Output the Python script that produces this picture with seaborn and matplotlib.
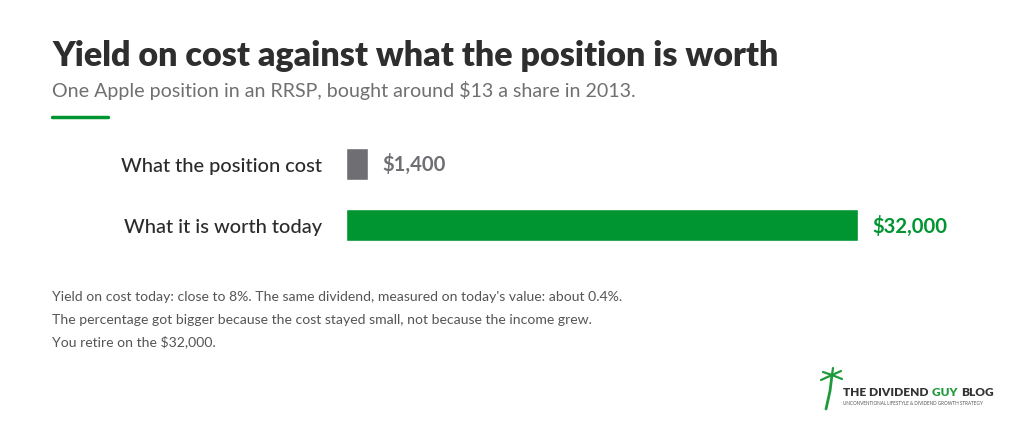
import matplotlib
matplotlib.use("Agg")
import matplotlib.pyplot as plt
import seaborn as sns
import pandas as pd

# chart data
categories = ["What the position cost", "What it is worth today"]
values = [1400, 32000]
value_labels = ["$1,400", "$32,000"]
bar_colors = ["#6f6e73", "#009530"]

title = "Yield on cost against what the position is worth"
subtitle = "One Apple position in an RRSP, bought around $13 a share in 2013."
notes = [
    "Yield on cost today: close to 8%. The same dividend, measured on today's value: about 0.4%.",
    "The percentage got bigger because the cost stayed small, not because the income grew.",
    "You retire on the $32,000.",
]

df = pd.DataFrame({"category": categories, "value": values})

sns.set_theme(style="white")
plt.rcParams["font.family"] = ["Lato", "DejaVu Sans"]

W, H = 1024, 435
fig = plt.figure(figsize=(W / 100, H / 100), dpi=100)
fig.patch.set_facecolor("white")

# axes placed so bars start at x=346px and the long bar ends at x=858px
ax = fig.add_axes([346 / W, 1 - 257 / H, 512 / W, 123 / H])
sns.barplot(data=df, x="value", y="category", hue="category", palette=bar_colors,
            orient="h", width=0.52, legend=False, ax=ax, saturation=1)
ax.set_xlim(0, 32000)
ax.set_ylim(1.5, -0.5)
ax.set_xlabel("")
ax.set_ylabel("")
ax.set_xticks([])
sns.despine(ax=ax, left=True, bottom=True)
ax.tick_params(axis="y", length=0, pad=17, labelsize=14.4, labelcolor="#2b2b2b")
for lbl in ax.get_yticklabels():
    lbl.set_fontweight("medium")

for cont, lab, col in zip(ax.containers, value_labels, bar_colors):
    ax.bar_label(cont, labels=[lab], padding=10, color=col, fontsize=14.6,
                 fontweight="bold")

# header
fig.text(52 / W, 1 - 56 / H, title, fontsize=24.5, fontweight="heavy",
         color="#2e2e2e", va="center", ha="left")
fig.text(52 / W, 1 - 91 / H, subtitle, fontsize=14.1, color="#707070",
         va="center", ha="left")
fig.add_artist(plt.Line2D([52 / W, 108 / W], [1 - 118 / H, 1 - 118 / H],
                          color="#009530", lw=2.5, transform=fig.transFigure))

# notes
for i, line in enumerate(notes):
    fig.text(52 / W, 1 - (297 + 22.5 * i) / H, line, fontsize=10.1,
             color="#555555", va="center", ha="left")

# logo, placed word by word
renderer = fig.canvas.get_renderer()
x = 843
for part, col in [("THE DIVIDEND ", "#333333"), ("GUY ", "#1f9a3a"), ("BLOG", "#333333")]:
    t = fig.text(x / W, 1 - 393 / H, part, fontsize=8.6, fontweight="heavy",
                 color=col, va="center", ha="left")
    x = t.get_window_extent(renderer).x1 + 1
fig.text(843 / W, 1 - 404 / H, "UNCONVENTIONAL LIFESTYLE & DIVIDEND GROWTH STRATEGY",
         fontsize=3.3, color="#555555", va="center", ha="left")
# palm tree mark
fig.add_artist(plt.Line2D([826 / W, 830 / W, 832 / W], [1 - 410 / H, 1 - 392 / H, 1 - 376 / H],
                          color="#1f9a3a", lw=2, transform=fig.transFigure))
for dx, dy in [(-11, 5), (-9, -3), (10, 4), (9, -4), (1, -7)]:
    fig.add_artist(plt.Line2D([832 / W, (832 + dx) / W], [1 - 376 / H, 1 - (376 + dy) / H],
                              color="#1f9a3a", lw=1.6, transform=fig.transFigure))

fig.savefig("out.png", dpi=100, facecolor="white")
